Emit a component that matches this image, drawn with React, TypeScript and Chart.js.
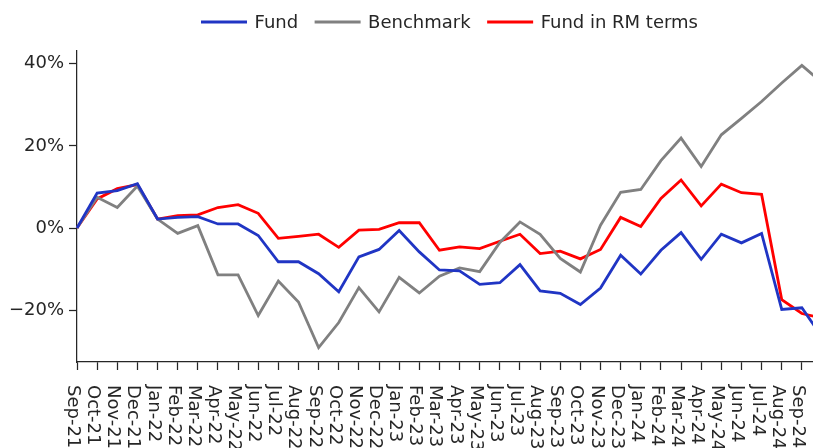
import React, { useEffect, useRef } from "react";
import { Chart, registerables } from "chart.js";

Chart.register(...registerables);

const months: string[] = [
  "Sep-21", "Oct-21", "Nov-21", "Dec-21", "Jan-22", "Feb-22", "Mar-22", "Apr-22",
  "May-22", "Jun-22", "Jul-22", "Aug-22", "Sep-22", "Oct-22", "Nov-22", "Dec-22",
  "Jan-23", "Feb-23", "Mar-23", "Apr-23", "May-23", "Jun-23", "Jul-23", "Aug-23",
  "Sep-23", "Oct-23", "Nov-23", "Dec-23", "Jan-24", "Feb-24", "Mar-24", "Apr-24",
  "May-24", "Jun-24", "Jul-24", "Aug-24", "Sep-24", "Oct-24",
];

const fund: number[] = [
  0, 8.5, 9.1, 10.8, 2.2, 2.6, 2.8, 1.0, 1.0, -1.8, -8.2, -8.2, -11.1, -15.5, -7.0, -5.2,
  -0.6, -5.8, -10.2, -10.4, -13.7, -13.3, -8.9, -15.3, -15.9, -18.6, -14.6, -6.6, -11.2,
  -5.4, -1.1, -7.6, -1.5, -3.6, -1.3, -19.8, -19.4, -26.5,
];

const benchmark: number[] = [
  0, 7.5, 5.0, 10.2, 2.2, -1.3, 0.6, -11.4, -11.4, -21.3, -12.9, -18.0, -29.1, -23.0,
  -14.5, -20.4, -12.0, -15.8, -11.7, -9.7, -10.6, -3.5, 1.5, -1.5, -7.4, -10.7, 0.7, 8.7,
  9.4, 16.4, 21.9, 15.0, 22.7, 26.7, 30.8, 35.3, 39.6, 35.4,
];

const fundRM: number[] = [
  0, 7.1, 9.6, 10.6, 2.2, 3.0, 3.2, 5.0, 5.7, 3.6, -2.5, -2.0, -1.5, -4.7, -0.5, -0.3,
  1.3, 1.3, -5.4, -4.6, -5.0, -3.2, -1.5, -6.2, -5.6, -7.5, -5.2, 2.6, 0.4, 7.2, 11.7,
  5.4, 10.7, 8.6, 8.2, -17.4, -20.8, -21.9,
];

const yTicks: number[] = [-20, 0, 20, 40];
const seriesNames: string[] = ["Fund", "Benchmark", "Fund in RM terms"];
const seriesColors: string[] = ["#2035c4", "#808080", "#ff0000"];

const FONT = '"DejaVu Sans", sans-serif';
const TEXT = "#262626";

const fmtPct = (v: number) => (v < 0 ? "\u2212" + Math.abs(v) : String(v)) + "%";

export default function App() {
  const ref = useRef<HTMLCanvasElement | null>(null);

  useEffect(() => {
    if (!ref.current) return;
    document.body.style.margin = "0";

    const xLabelPlugin = {
      id: "xLabels",
      afterDraw(chart: any) {
        const ctx = chart.ctx;
        const xs = chart.scales.x;
        ctx.save();
        ctx.font = "18px " + FONT;
        ctx.fillStyle = TEXT;
        ctx.textAlign = "left";
        ctx.textBaseline = "alphabetic";
        months.forEach((m, i) => {
          const x = xs.getPixelForValue(i);
          ctx.save();
          ctx.translate(x - 9, 385);
          ctx.rotate(Math.PI / 2);
          ctx.fillText(m, 0, 0);
          ctx.restore();
        });
        ctx.restore();
      },
    };

    const legendPlugin = {
      id: "customLegend",
      afterDraw(chart: any) {
        const ctx = chart.ctx;
        const area = chart.chartArea;
        ctx.save();
        ctx.font = "18px " + FONT;
        const handle = 46;
        const gapText = 7.5;
        const gapItem = 16.5;
        const widths = seriesNames.map((n) => ctx.measureText(n).width);
        let total = 0;
        widths.forEach((w) => (total += handle + gapText + w));
        total += gapItem * (seriesNames.length - 1);
        let x = (area.left + area.right) / 2 - total / 2;
        const y = 22;
        seriesNames.forEach((n, i) => {
          ctx.strokeStyle = seriesColors[i];
          ctx.lineWidth = 3;
          ctx.beginPath();
          ctx.moveTo(x, y);
          ctx.lineTo(x + handle, y);
          ctx.stroke();
          x += handle + gapText;
          ctx.fillStyle = TEXT;
          ctx.textBaseline = "middle";
          ctx.textAlign = "left";
          ctx.fillText(n, x, y + 1);
          x += widths[i] + gapItem;
        });
        ctx.restore();
      },
    };

    const chart = new Chart(ref.current, {
      type: "line",
      data: {
        labels: months,
        datasets: [
          { label: seriesNames[0], data: fund, borderColor: seriesColors[0] },
          { label: seriesNames[1], data: benchmark, borderColor: seriesColors[1] },
          { label: seriesNames[2], data: fundRM, borderColor: seriesColors[2] },
        ].map((d) => ({
          ...d,
          backgroundColor: d.borderColor,
          borderWidth: 2.8,
          pointRadius: 0,
          pointHoverRadius: 0,
          tension: 0,
          fill: false,
          borderJoinStyle: "miter" as const,
        })),
      },
      options: {
        responsive: false,
        animation: false,
        devicePixelRatio: 1,
        layout: { padding: { top: 51, left: 0, right: 8, bottom: 0 } },
        plugins: {
          legend: { display: false },
          tooltip: { enabled: false },
        },
        scales: {
          x: {
            type: "category",
            offset: false,
            grid: {
              display: true,
              drawOnChartArea: false,
              drawTicks: true,
              tickLength: 8,
              tickColor: TEXT,
              tickWidth: 1.25,
            },
            border: { display: true, color: TEXT, width: 1.25 },
            ticks: { display: false, autoSkip: false },
            afterFit: (s: any) => {
              s.height = 86;
            },
          },
          y: {
            min: -32.6,
            max: 43.1,
            grid: {
              display: true,
              drawOnChartArea: false,
              drawTicks: true,
              tickLength: 8,
              tickColor: TEXT,
              tickWidth: 1.25,
            },
            border: { display: true, color: TEXT, width: 1.25 },
            ticks: {
              padding: 5,
              color: TEXT,
              font: { family: FONT, size: 18 },
              callback: (v: any) => fmtPct(Number(v)),
            },
            afterBuildTicks: (s: any) => {
              s.ticks = yTicks.map((v) => ({ value: v }));
            },
            afterFit: (s: any) => {
              s.width = 77;
            },
          },
        },
      },
      plugins: [xLabelPlugin, legendPlugin],
    } as any);

    return () => chart.destroy();
  }, []);

  return (
    <div
      style={{
        position: "fixed",
        left: 0,
        top: 0,
        width: 813,
        height: 448,
        overflow: "hidden",
        background: "#fff",
      }}
    >
      <canvas ref={ref} width={830} height={448} style={{ display: "block", width: 830, height: 448 }} />
    </div>
  );
}
